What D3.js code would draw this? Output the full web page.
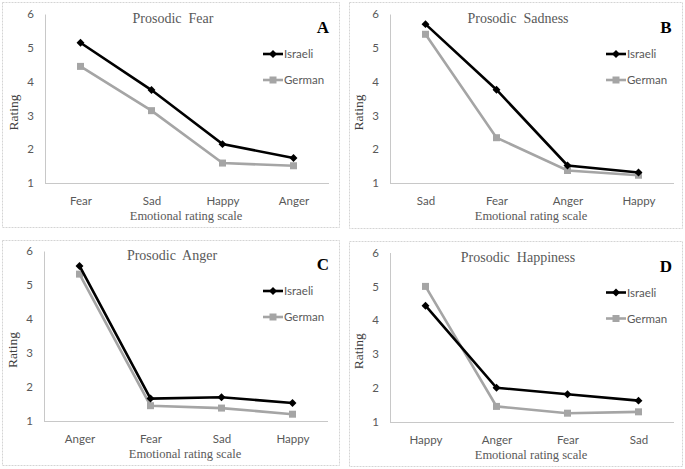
<!DOCTYPE html>
<html><head><meta charset="utf-8">
<script src="https://cdn.jsdelivr.net/npm/d3@7"></script>
<style>body{margin:0;background:#fff}svg{display:block}</style>
</head><body><div id="chart"></div>
<script>
const titles = ["Prosodic  Fear", "Prosodic  Sadness", "Prosodic  Anger", "Prosodic  Happiness"];
const letters = ["A", "B", "C", "D"];
const categoriesA = ["Fear", "Sad", "Happy", "Anger"];
const categoriesB = ["Sad", "Fear", "Anger", "Happy"];
const categoriesC = ["Anger", "Fear", "Sad", "Happy"];
const categoriesD = ["Happy", "Anger", "Fear", "Sad"];
const israeliA = [5.15, 3.75, 2.15, 1.74];
const germanA  = [4.45, 3.14, 1.59, 1.51];
const israeliB = [5.70, 3.76, 1.52, 1.31];
const germanB  = [5.40, 2.34, 1.37, 1.23];
const israeliC = [5.56, 1.66, 1.70, 1.53];
const germanC  = [5.32, 1.45, 1.38, 1.20];
const israeliD = [4.43, 2.01, 1.82, 1.63];
const germanD  = [5.00, 1.46, 1.26, 1.30];
const yTicks = [1, 2, 3, 4, 5, 6];
const seriesNames = ["Israeli", "German"];
const xTitle = "Emotional rating scale";
const yTitle = "Rating";

const panels = [
  {cats: categoriesA, isr: israeliA, ger: germanA, box: [2, 2, 337, 225], ax: 45, ax1: 329, yTop: 14, yBot: 183},
  {cats: categoriesB, isr: israeliB, ger: germanB, box: [349, 2, 333, 226], ax: 390, ax1: 674, yTop: 14, yBot: 183},
  {cats: categoriesC, isr: israeliC, ger: germanC, box: [2, 240, 337, 225], ax: 44, ax1: 328, yTop: 251, yBot: 421},
  {cats: categoriesD, isr: israeliD, ger: germanD, box: [349, 241, 333, 225], ax: 390, ax1: 674, yTop: 252.5, yBot: 422}
];

const W = 685, H = 469;
const svg = d3.select("#chart").append("svg").attr("width", W).attr("height", H);
const gray = "#595959", germanColor = "#a5a5a5", axisColor = "#c8c8c8";
const sans = "Lato, 'Liberation Sans', sans-serif";
const serif = "'Liberation Serif', 'Times New Roman', serif";

panels.forEach((p, i) => {
  const g = svg.append("g");
  const [bx, by, bw, bh] = p.box;
  g.append("rect").attr("x", bx + 0.5).attr("y", by + 0.5).attr("width", bw).attr("height", bh)
    .attr("fill", "#fff").attr("stroke", "#d4d4d4").attr("stroke-width", 1).attr("stroke-dasharray", "2,1");

  const x = d3.scalePoint().domain(p.cats).range([p.ax, p.ax1]).padding(0.5);
  const y = d3.scaleLinear().domain([1, 6]).range([p.yBot, p.yTop]);

  const yAxis = d3.axisLeft(y).tickValues(yTicks).tickSize(0).tickPadding(11).tickFormat(d3.format("d"));
  const ya = g.append("g").attr("transform", `translate(${p.ax},0)`).call(yAxis);
  ya.select(".domain").attr("stroke", axisColor).attr("stroke-width", 1);
  ya.selectAll("text").attr("fill", gray).attr("font-family", sans).attr("font-size", 11.5);

  const xAxis = d3.axisBottom(x).tickSize(0).tickPadding(14);
  const xa = g.append("g").attr("transform", `translate(0,${p.yBot})`).call(xAxis);
  xa.select(".domain").attr("stroke", axisColor).attr("stroke-width", 1)
    .attr("d", `M${p.ax},0.5H${p.ax1}`);
  xa.selectAll("text").attr("fill", gray).attr("font-family", sans).attr("font-size", 11.5);

  g.append("text").attr("x", (p.ax + p.ax1) / 2 - 14).attr("y", p.yTop + 9)
    .attr("text-anchor", "middle").attr("fill", gray).attr("font-family", serif).attr("font-size", 14)
    .style("white-space", "pre").text(titles[i]);
  g.append("text").attr("x", bx + bw - 16).attr("y", p.yTop + 19)
    .attr("text-anchor", "middle").attr("fill", "#000").attr("font-family", serif)
    .attr("font-weight", "bold").attr("font-size", 17).text(letters[i]);
  g.append("text").attr("x", (p.ax + p.ax1) / 2 - 1).attr("y", p.yBot + 37)
    .attr("text-anchor", "middle").attr("fill", gray).attr("font-family", serif).attr("font-size", 12.5).text(xTitle);
  g.append("text").attr("transform", `translate(${p.ax - 27},${(p.yTop + p.yBot) / 2 + 14}) rotate(-90)`)
    .attr("text-anchor", "middle").attr("fill", "#404040").attr("font-family", serif).attr("font-size", 13.5).text(yTitle);

  const line = d3.line().x((d, j) => x(p.cats[j])).y(d => y(d));
  g.append("path").datum(p.ger).attr("d", line).attr("fill", "none").attr("stroke", germanColor).attr("stroke-width", 2.6);
  g.selectAll(".gm").data(p.ger).enter().append("rect")
    .attr("x", (d, j) => x(p.cats[j]) - 3.5).attr("y", d => y(d) - 3.5).attr("width", 7).attr("height", 7).attr("fill", germanColor);
  g.append("path").datum(p.isr).attr("d", line).attr("fill", "none").attr("stroke", "#000").attr("stroke-width", 2.6);
  const diamond = d3.symbol().type(d3.symbolDiamond2).size(40);
  g.selectAll(".im").data(p.isr).enter().append("path")
    .attr("d", diamond).attr("transform", (d, j) => `translate(${x(p.cats[j])},${y(d)})`).attr("fill", "#000");

  const lx = bx + bw - 76, ly = p.yTop + 40;
  seriesNames.forEach((name, k) => {
    const yy = ly + k * 26;
    const col = k === 0 ? "#000" : germanColor;
    g.append("line").attr("x1", lx).attr("x2", lx + 20).attr("y1", yy).attr("y2", yy).attr("stroke", col).attr("stroke-width", 2.6);
    if (k === 0) g.append("path").attr("d", diamond).attr("transform", `translate(${lx + 10},${yy})`).attr("fill", col);
    else g.append("rect").attr("x", lx + 6.5).attr("y", yy - 3.5).attr("width", 7).attr("height", 7).attr("fill", col);
    g.append("text").attr("x", lx + 21).attr("y", yy + 4).attr("fill", gray).attr("font-family", sans).attr("font-size", 11.5).text(name);
  });
});
</script></body></html>
